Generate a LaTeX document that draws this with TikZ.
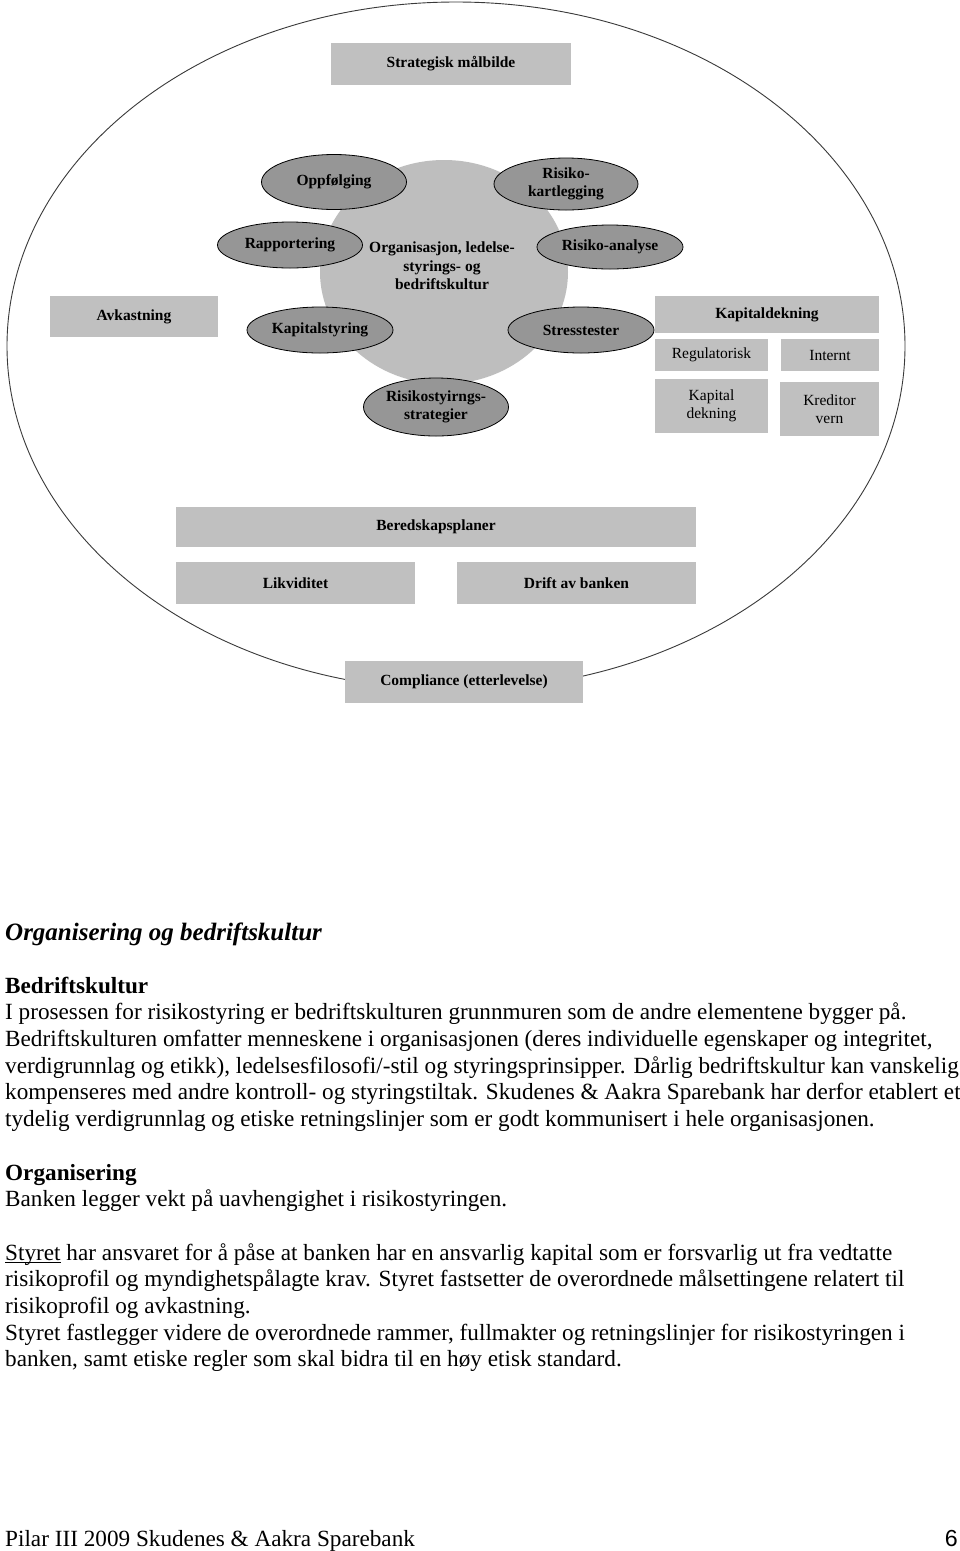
\documentclass[tikz,border=0pt]{standalone}
\usepackage{fontspec}
\setmainfont{Liberation Serif}
\newfontfamily\sidetallfont{Liberation Sans}
\usepackage{tikz}
\usetikzlibrary{shapes.geometric}
\usepackage{xcolor}
\definecolor{bakgrunn}{RGB}{255, 255, 255}
\definecolor{boksgraa}{HTML}{C0C0C0}
\definecolor{kjernegraa}{HTML}{BEBEBE}
\definecolor{ovalgraa}{HTML}{969696}
\definecolor{strek}{HTML}{3A3A3A}
\newcommand{\diagramtekst}{\fontsize{15.5}{18.5}\selectfont}
\newcommand{\brodtekst}{\fontsize{23.2}{26.7}\selectfont}
\newcommand{\overskrifttekst}{\fontsize{25}{28}\selectfont}
\newcommand{\strekunder}[1]{\setbox0\hbox{#1}\rlap{\rule[-2.6pt]{\wd0}{1.1pt}}#1}

\begin{document}
\begin{tikzpicture}[x=1pt,y=-1pt,
    boks/.style={fill=boksgraa,inner sep=0pt,align=center,font=\diagramtekst\bfseries},
    tynnboks/.style={boks,font=\diagramtekst},
    oval/.style={ellipse,draw=black,line width=0.8pt,fill=ovalgraa,inner sep=0pt,align=center,font=\diagramtekst\bfseries},
    brod/.style={inner sep=0pt,align=left,font=\brodtekst}]
				% Boundary box
				\fill[bakgrunn] (0,0) rectangle (960,1551);
				\useasboundingbox (0,0) rectangle (960,1551);

				% Outer ellipse round the whole model
				\draw[strek,line width=0.9pt] (456,346) ellipse [x radius=449pt, y radius=344pt];

				% Grey boxes
				\node[boks,minimum width=240pt,minimum height=42pt] (strategi) at (451,64) {Strategisk målbilde};
				\node[boks,minimum width=168pt,minimum height=41pt] (avkastning) at (134,316.5) {Avkastning};
				\node[boks,minimum width=224pt,minimum height=37pt] (kapitaldekning) at (767,314.5) {Kapitaldekning};
				\node[tynnboks,minimum width=113pt,minimum height=32pt] (regulatorisk) at (711.5,355) {Regulatorisk};
				\node[tynnboks,minimum width=98pt,minimum height=32pt] (internt) at (830,355) {Internt};
				\node[tynnboks,minimum width=113pt,minimum height=54pt] (kapdekning) at (711.5,406) {Kapital\\dekning};
				\node[tynnboks,minimum width=99pt,minimum height=54pt] (kreditorvern) at (829.5,409) {Kreditor\\vern};
				\node[boks,minimum width=520pt,minimum height=40pt] (beredskap) at (436,527) {Beredskapsplaner};
				\node[boks,minimum width=239pt,minimum height=42pt] (likviditet) at (295.5,583) {Likviditet};
				\node[boks,minimum width=239pt,minimum height=42pt] (drift) at (576.5,583) {Drift av banken};
				\node[boks,minimum width=238pt,minimum height=42pt] (compliance) at (464,682) {Compliance (etterlevelse)};

				% Core circle with the ellipses round it
				\node[ellipse,fill=kjernegraa,inner sep=0pt,minimum width=248pt,minimum height=224pt] (kjerne) at (444,272) {};
				\node[oval,minimum width=145pt,minimum height=55pt] (oppfolging) at (334,182) {Oppfølging};
				\node[oval,minimum width=144pt,minimum height=52pt] (kartlegging) at (566,184) {Risiko-\\kartlegging};
				\node[oval,minimum width=145pt,minimum height=46pt] (rapportering) at (290,245) {Rapportering};
				\node[oval,minimum width=146pt,minimum height=44pt] (analyse) at (610,247) {Risiko-analyse};
				\node[oval,minimum width=146pt,minimum height=46pt] (kapitalstyring) at (320,330) {Kapitalstyring};
				\node[oval,minimum width=146pt,minimum height=46pt] (stresstester) at (581,330) {Stresstester};
				\node[oval,minimum width=145pt,minimum height=58pt] (strategier) at (436,407) {Risikostyirngs-\\strategier};
				\node[align=center,font=\diagramtekst\bfseries] (kjernetekst) at (442,266) {Organisasjon, ledelse-\\styrings- og\\bedriftskultur};

				% Text below the model (base anchor sits on the last line)
				\node[inner sep=0pt,anchor=base west,font=\overskrifttekst] (overskrift) at (5,940) {\textbf{\textit{Organisering og bedriftskultur}}};
				\node[brod,anchor=base west] (bedriftskultur) at (5,1126.5) {\textbf{Bedriftskultur}\\
I prosessen for risikostyring er bedriftskulturen grunnmuren som de andre elementene bygger på.\\
Bedriftskulturen omfatter menneskene i organisasjonen (deres individuelle egenskaper og integritet,\\
verdigrunnlag og etikk), ledelsesfilosofi/-stil og styringsprinsipper. Dårlig bedriftskultur kan vanskelig\\
kompenseres med andre kontroll- og styringstiltak. Skudenes \& Aakra Sparebank har derfor etablert et\\
tydelig verdigrunnlag og etiske retningslinjer som er godt kommunisert i hele organisasjonen.};
				\node[brod,anchor=base west] (organisering) at (5,1206.7) {\textbf{Organisering}\\
Banken legger vekt på uavhengighet i risikostyringen.};
				\node[brod,anchor=base west] (styret) at (5,1366.8) {\strekunder{Styret} har ansvaret for å påse at banken har en ansvarlig kapital som er forsvarlig ut fra vedtatte\\
risikoprofil og myndighetspålagte krav. Styret fastsetter de overordnede målsettingene relatert til\\
risikoprofil og avkastning.\\
Styret fastlegger videre de overordnede rammer, fullmakter og retningslinjer for risikostyringen i\\
banken, samt etiske regler som skal bidra til en høy etisk standard.};

				% Footer
				\node[brod,anchor=base west] (bunntekst) at (5,1546) {Pilar III 2009 Skudenes \& Aakra Sparebank};
				\node[brod,anchor=base east] (sidetall) at (958,1546) {\sidetallfont 6};
			\end{tikzpicture}
\end{document}
